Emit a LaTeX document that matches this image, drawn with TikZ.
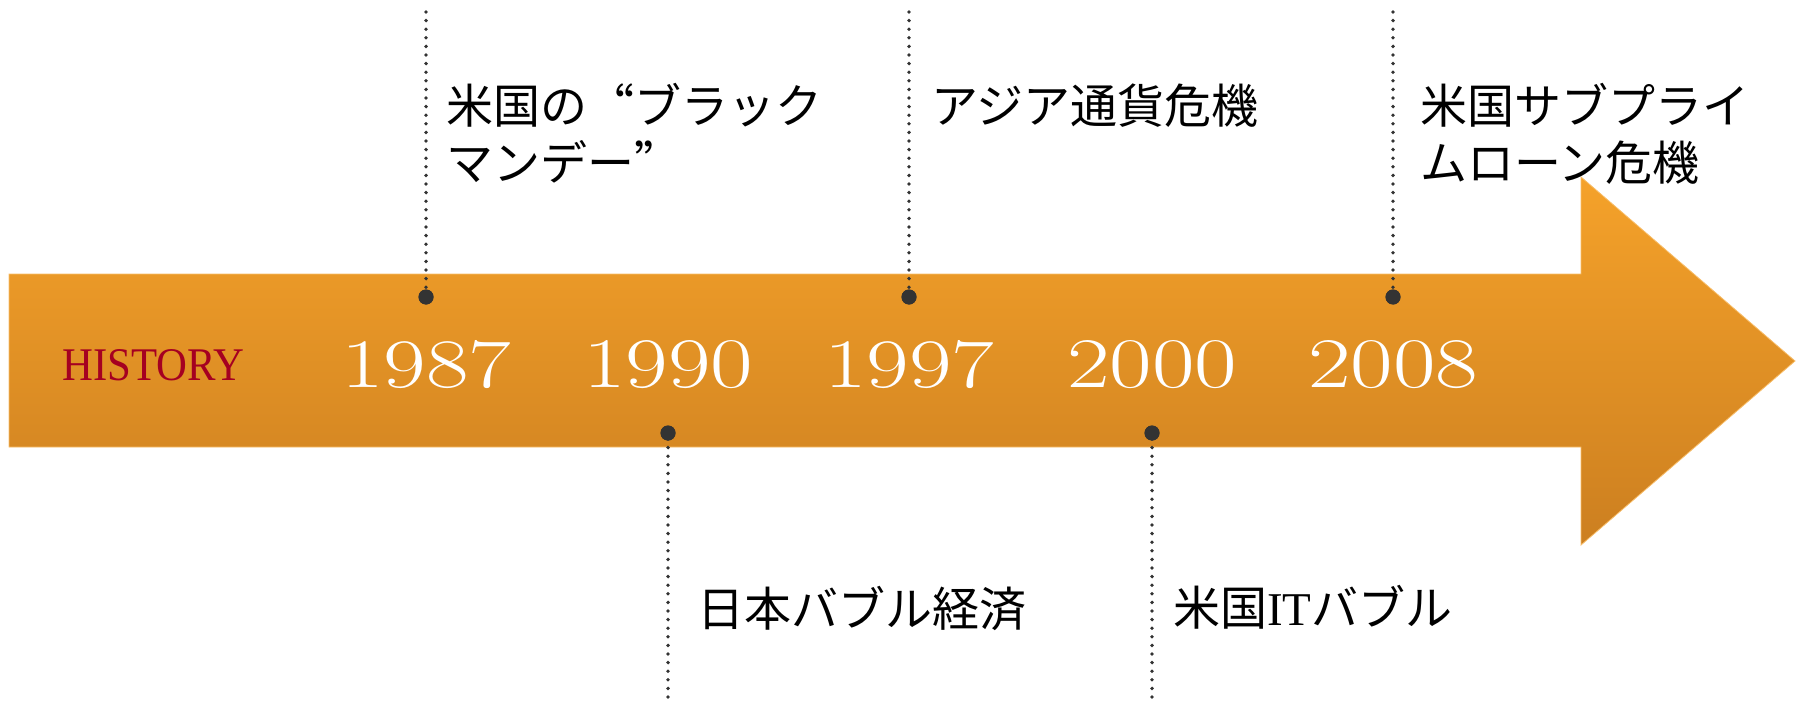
\documentclass[tikz,border=0pt]{standalone}
\usepackage{fontspec}
\usepackage{graphicx}
\newfontfamily\jpfont{Noto Sans CJK JP}
\newfontfamily\lserif{Liberation Serif}
\definecolor{arrowtop}{HTML}{F5A22A}
\definecolor{arrowbot}{HTML}{CC7F20}
\definecolor{dotgray}{HTML}{333333}
\definecolor{histred}{HTML}{A50021}
\begin{document}
\begin{tikzpicture}[x=1pt,y=-1pt,
  dotline/.style={draw=dotgray,line width=3.8pt,line cap=round,dash pattern=on 0pt off 8.6pt},
  knob/.style={circle,fill=dotgray,inner sep=0pt,minimum size=15pt},
  yearlbl/.style={anchor=base,inner sep=0pt,text=white},
  evlbl/.style={anchor=base west,inner sep=0pt,align=left,font=\jpfont\fontsize{47}{57}\selectfont}]
\useasboundingbox (0,0) rectangle (1806,701);
% arrow
\path[top color=arrowtop,bottom color=arrowbot,draw=arrowtop!70!white,line width=0.8pt]
  (9,274) -- (1581,274) -- (1581,177) -- (1795,361) -- (1581,545) -- (1581,447) -- (9,447) -- cycle;
% title
\node[anchor=base west,inner sep=0pt,text=histred] (hist) at (62,380)
  {\resizebox{182pt}{31pt}{\lserif HISTORY}};
% years
\node[yearlbl] (y1987) at (426,387) {\resizebox{170pt}{47pt}{\fontsize{70}{70}\selectfont 1987}};
\node[yearlbl] (y1990) at (668,387) {\resizebox{170pt}{47pt}{\fontsize{70}{70}\selectfont 1990}};
\node[yearlbl] (y1997) at (909,387) {\resizebox{170pt}{47pt}{\fontsize{70}{70}\selectfont 1997}};
\node[yearlbl] (y2000) at (1152,387) {\resizebox{170pt}{47pt}{\fontsize{70}{70}\selectfont 2000}};
\node[yearlbl] (y2008) at (1393,387) {\resizebox{170pt}{47pt}{\fontsize{70}{70}\selectfont 2008}};
% knobs and line ends
\node[knob] (k1987) at (426,297) {};
\node[knob] (k1997) at (909,297) {};
\node[knob] (k2008) at (1393,297) {};
\node[knob] (k1990) at (668,433) {};
\node[knob] (k2000) at (1152,433) {};
\coordinate (e1987) at (426,12);
\coordinate (e1997) at (909,12);
\coordinate (e2008) at (1393,12);
\coordinate (e1990) at (668,697);
\coordinate (e2000) at (1152,697);
\draw[dotline] (e1987) -- (k1987.center);
\draw[dotline] (e1997) -- (k1997.center);
\draw[dotline] (e2008) -- (k2008.center);
\draw[dotline] (e1990) -- (k1990.center);
\draw[dotline] (e2000) -- (k2000.center);
\node[knob] at (k1987) {};
\node[knob] at (k1997) {};
\node[knob] at (k2008) {};
\node[knob] at (k1990) {};
\node[knob] at (k2000) {};
% events
\node[evlbl] (ev1987) at (446,180) {米国の{\addfontfeatures{CharacterWidth=Full}“}ブラック\\マンデー{\addfontfeatures{CharacterWidth=Full}”}};
\node[evlbl] (ev1997) at (931,123) {アジア通貨危機};
\node[evlbl] (ev2008) at (1420,180) {米国サブプライ\\ムローン危機};
\node[evlbl] (ev1990) at (697,626) {日本バブル経済};
\node[evlbl] (ev2000) at (1173,625) {米国{\lserif IT}バブル};
\end{tikzpicture}
\end{document}
